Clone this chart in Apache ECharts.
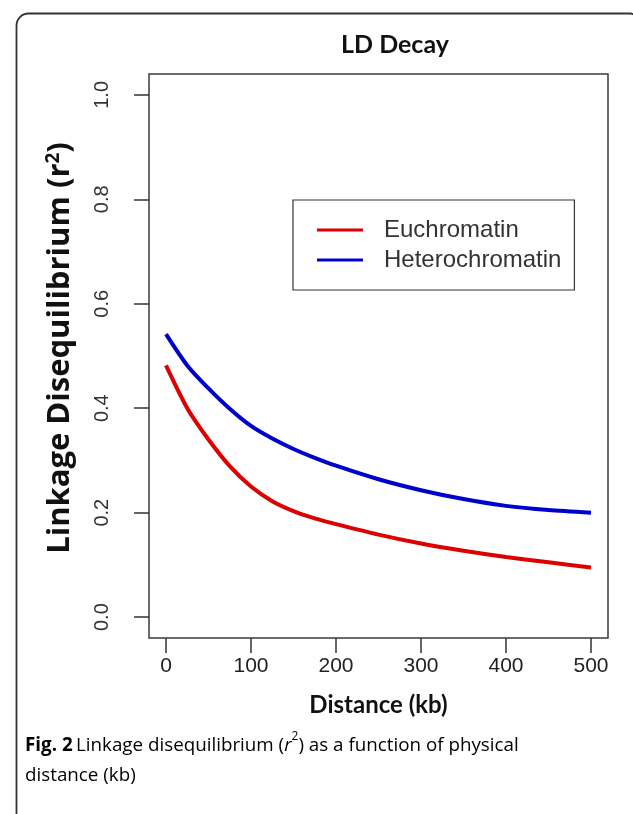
<!DOCTYPE html>
<html>
<head>
<meta charset="utf-8">
<script src="https://cdn.jsdelivr.net/npm/echarts@6/dist/echarts.min.js"></script>
<style>
  html, body { margin: 0; padding: 0; background: #ffffff; }
  #chart { width: 633px; height: 814px; }
</style>
</head>
<body>
<div id="chart"></div>
<script>
// ---- data ----
const distanceKb = [0, 25, 50, 75, 100, 125, 150, 175, 200, 250, 300, 350, 400, 450, 500];
const euchromatin = [0.482, 0.400, 0.340, 0.289, 0.250, 0.222, 0.203, 0.189, 0.178, 0.158, 0.141, 0.127, 0.115, 0.105, 0.095];
const heterochromatin = [0.542, 0.482, 0.438, 0.399, 0.366, 0.342, 0.322, 0.305, 0.290, 0.264, 0.243, 0.226, 0.213, 0.205, 0.200];
const xTicks = [0, 100, 200, 300, 400, 500];
const yTicks = [0, 0.2, 0.4, 0.6, 0.8, 1.0];
const seriesNames = ['Euchromatin', 'Heterochromatin'];
const chartTitle = 'LD Decay';
const xTitle = 'Distance (kb)';

const pairs = (ys) => distanceKb.map((x, i) => [x, ys[i]]);

const chart = echarts.init(document.getElementById('chart'), null, { renderer: 'canvas' });

const option = {
  backgroundColor: '#ffffff',
  animation: false,
  title: {
    text: chartTitle,
    left: 390, top: 27,
    textAlign: 'center',
    textStyle: { fontFamily: 'Lato', fontWeight: 'bold', fontSize: 25, color: '#111' }
  },
  grid: {
    left: 149, top: 74, width: 459, height: 564,
    show: true, borderColor: '#3a3a3a', borderWidth: 1.5, backgroundColor: 'transparent'
  },
  legend: {
    orient: 'vertical',
    left: 293, top: 200,
    data: seriesNames,
    icon: 'rect',
    itemWidth: 46, itemHeight: 3,
    itemGap: 6,
    padding: [18, 13, 18, 24],
    borderColor: '#333', borderWidth: 1.2,
    textStyle: { fontFamily: 'Liberation Sans', fontSize: 24, color: '#333', lineHeight: 24, padding: [0, 0, 0, 16] }
  },
  xAxis: {
    type: 'value',
    min: -20, max: 520,
    name: xTitle,
    nameLocation: 'middle',
    nameGap: 55,
    nameMoveOverlap: false,
    nameTextStyle: { fontFamily: 'Lato', fontWeight: 'bold', fontSize: 24, color: '#111' },
    axisLine: { show: false, onZero: false },
    splitLine: { show: false },
    axisTick: { show: true, inside: false, length: 15, customValues: xTicks, lineStyle: { color: '#333', width: 1.5 } },
    axisLabel: { customValues: xTicks, margin: 18, fontFamily: 'Liberation Sans', fontSize: 21, color: '#222' }
  },
  yAxis: {
    type: 'value',
    min: -0.04, max: 1.04,
    name: '{a0|Linkage Disequilibrium (r}{s|2}{a|)}',
    nameLocation: 'middle',
    nameRotate: 90,
    nameGap: 73,
    nameMoveOverlap: false,
    nameTextStyle: {
      rich: {
        a0: { fontFamily: 'Open Sans', fontWeight: 'bold', fontSize: 31, color: '#111', padding: [0, 0, 0, 16] },
        a: { fontFamily: 'Open Sans', fontWeight: 'bold', fontSize: 31, color: '#111' },
        s: { fontFamily: 'Open Sans', fontWeight: 'bold', fontSize: 19, color: '#111', verticalAlign: 'top', padding: [0, 0, 13, 0] }
      }
    },
    axisLine: { show: false, onZero: false },
    splitLine: { show: false },
    axisTick: { show: true, inside: false, length: 15, customValues: yTicks, lineStyle: { color: '#333', width: 1.5 } },
    axisLabel: {
      customValues: yTicks, rotate: 90, margin: 37,
      fontFamily: 'Liberation Sans', fontSize: 20, color: '#333',
      formatter: (v) => v.toFixed(1)
    }
  },
  series: [
    {
      name: seriesNames[0], type: 'line', data: pairs(euchromatin),
      smooth: 0.25, showSymbol: false, symbol: 'none',
      lineStyle: { color: '#dd0000', width: 4 }, itemStyle: { color: '#dd0000' }
    },
    {
      name: seriesNames[1], type: 'line', data: pairs(heterochromatin),
      smooth: 0.25, showSymbol: false, symbol: 'none',
      lineStyle: { color: '#0000cc', width: 4 }, itemStyle: { color: '#0000cc' }
    }
  ],
  graphic: [
    {
      type: 'rect', left: 14, top: 11,
      shape: { width: 618, height: 900, r: [12, 4, 0, 0] },
      style: { fill: 'none', stroke: '#333', lineWidth: 1.8 },
      silent: true
    },
    {
      type: 'text', left: 25, top: 731,
      style: {
        text: '{b|Fig. 2} {n|Linkage disequilibrium (}{i|r}{sup|2}{n|) as a function of physical}\n{n|distance (kb)}',
        rich: {
          b: { fontFamily: 'Open Sans', fontWeight: 'bold', fontSize: 18.8, color: '#1a1a1a', lineHeight: 30 },
          n: { fontFamily: 'Open Sans', fontSize: 18.8, color: '#333', lineHeight: 30 },
          i: { fontFamily: 'Open Sans', fontStyle: 'italic', fontSize: 18.8, color: '#333', lineHeight: 30 },
          sup: { fontFamily: 'Open Sans', fontSize: 12, color: '#333', verticalAlign: 'top', lineHeight: 30, padding: [0, 0, 8, 0] }
        }
      }
    }
  ]
};

chart.setOption(option);
</script>
</body>
</html>
